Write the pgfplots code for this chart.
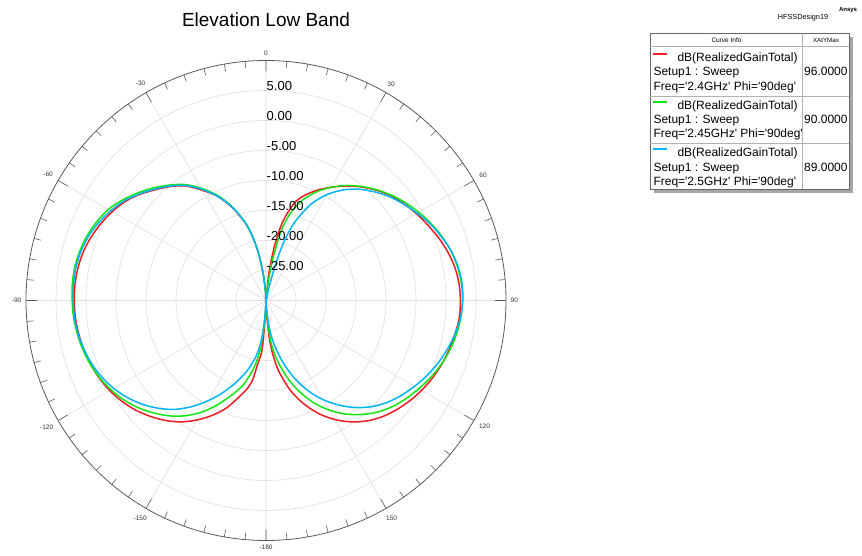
\documentclass[border=0pt]{standalone}
\usepackage{fontspec}
\setmainfont{Liberation Sans}
\newfontfamily\arial{Liberation Sans}
\usepackage{pgfplots}
\usepackage{pgfplotstable}
\usepgfplotslibrary{polar}
\pgfplotsset{compat=1.18}
\definecolor{cRed}{RGB}{237,28,36}
\definecolor{cGreen}{RGB}{20,228,20}
\definecolor{cCyan}{RGB}{0,180,245}
\definecolor{gridc}{RGB}{222,222,222}

% theta (deg, clockwise from top), gain (dB)
\pgfplotstableread{
t g
-180 -30
-177 -26.75
-175.4 -21.7
-172.3 -19.1
-170.5 -16.6
-168 -15.0
-165 -13.6
-160 -11.0
-155 -8.9
-150 -7.0
-145 -5.3
-140 -3.9
-135 -2.7
-130 -1.6
-125 -0.7
-120 0.05
-115 0.65
-110 1.1
-105 1.45
-100 1.7
-95 1.9
-90 1.95
-85 1.95
-80 1.8
-75 1.5
-70 1.0
-65 0.35
-60 -0.4
-55 -1.3
-50 -2.5
-45 -3.9
-40 -5.2
-35 -6.7
-30 -8.8
-25 -10.8
-20 -13.5
-15 -16.6
-12 -19.0
-9 -22.0
-6 -25.6
-3 -28.6
0 -30
6 -25.5
9 -20.6
12 -16.6
16 -13.2
20 -11.4
25 -9.7
30 -8.2
35 -6.7
40 -5.3
45 -4.0
50 -2.85
55 -1.9
60 -1.05
65 -0.25
70 0.6
75 1.35
80 1.95
85 2.3
90 2.4
95 2.35
100 2.0
105 1.6
110 1.15
115 0.6
120 -0.05
125 -0.8
130 -1.65
135 -2.6
140 -3.8
145 -5.3
150 -7.1
155 -9.2
160 -11.7
165 -14.6
170 -18.2
173 -21.2
175 -23.8
177 -27.5
180 -30
}\redtab

\pgfplotstableread{
t g
-180 -30
-177 -27.5
-175 -24.5
-173 -21.5
-170 -18.7
-165 -15.5
-160 -13.2
-155 -10.8
-150 -8.5
-145 -6.55
-140 -4.9
-135 -3.5
-130 -2.2
-125 -1.1
-120 -0.2
-115 0.55
-110 1.15
-105 1.6
-100 1.95
-95 2.2
-90 2.3
-85 2.4
-80 2.35
-75 2.1
-70 1.7
-65 1.1
-60 0.35
-55 -0.8
-50 -2.1
-45 -3.45
-40 -4.9
-35 -6.4
-30 -8.4
-25 -10.6
-20 -13.3
-15 -16.5
-12 -19.0
-9 -22.0
-6 -25.6
-3 -28.6
0 -30
7 -27.0
9 -23.5
11 -20.2
13 -17.3
16 -14.6
20 -12.2
25 -10.0
30 -8.2
35 -6.6
40 -5.2
45 -3.9
50 -2.7
55 -1.6
60 -0.6
65 0.35
70 1.2
75 1.9
80 2.4
85 2.7
90 2.75
95 2.6
100 2.25
105 1.75
110 1.1
115 0.3
120 -0.6
125 -1.5
130 -2.5
135 -3.7
140 -5.2
145 -6.9
150 -8.9
155 -11.2
160 -13.9
165 -16.9
170 -20.3
173 -22.8
175 -25.5
177 -28.3
180 -30
}\greentab

\pgfplotstableread{
t g
-180 -30
-177 -28.3
-175 -25.8
-173 -23.0
-170 -20.6
-165 -17.9
-160 -15.5
-155 -13.1
-150 -10.7
-145 -8.4
-140 -6.3
-135 -4.6
-130 -3.1
-125 -1.8
-120 -0.7
-115 0.2
-110 0.9
-105 1.4
-100 1.8
-95 2.05
-90 2.15
-85 2.2
-80 2.15
-75 1.9
-70 1.45
-65 0.75
-60 -0.1
-55 -1.1
-50 -2.4
-45 -3.75
-40 -5.1
-35 -6.6
-30 -8.6
-25 -10.8
-20 -13.4
-15 -16.5
-12 -19.0
-9 -22.0
-6 -25.6
-3 -28.6
0 -30
13 -27.5
15 -23.3
17 -19.8
20 -16.2
25 -12.3
30 -9.6
35 -7.5
40 -5.8
45 -4.4
50 -3.1
55 -2.0
60 -0.9
65 0.2
70 1.1
75 1.95
80 2.5
85 2.8
90 2.8
95 2.55
100 2.0
105 1.3
110 0.5
115 -0.4
120 -1.4
125 -2.45
130 -3.6
135 -5.0
140 -6.7
145 -8.7
150 -10.9
155 -13.4
160 -16.3
165 -19.5
170 -22.9
173 -25.5
176 -28.4
180 -30
}\cyantab

\begin{document}
\begin{tikzpicture}
\path[use as bounding box] (0pt,0pt) rectangle (862pt,556pt);
\begin{polaraxis}[
  at={(266pt,255.5pt)}, anchor=center,
  scale only axis, width=480pt, height=480pt,
  xmin=0, xmax=360, ymin=0, ymax=40,
  xtick={0,30,...,330},
  xticklabels={90,60,30,0,-30,-60,-90,-120,-150,-180,150,120},
  minor x tick num=5,
  ytick={5,10,...,35}, yticklabels={},
  major y tick style={draw=none},
  grid=major,
  major grid style={draw=gridc, line width=0.6pt},
  axis line style={draw=black!65, line width=0.8pt},
  y axis line style={draw=none},
  tick style={draw=black!65, line width=0.6pt},
  major tick length=-11pt, minor tick length=-7pt,
  xticklabel style={font=\fontsize{6.5}{7}\selectfont, text=black!80, inner sep=4.5pt},
]
\addplot[cRed, line width=1.5pt, no markers, smooth, tension=0.5] table[x expr=90-\thisrow{t}, y expr=\thisrow{g}+30] {\redtab};
\addplot[cGreen, line width=1.5pt, no markers, smooth, tension=0.5] table[x expr=90-\thisrow{t}, y expr=\thisrow{g}+30] {\greentab};
\addplot[cCyan, line width=1.5pt, no markers, smooth, tension=0.5] table[x expr=90-\thisrow{t}, y expr=\thisrow{g}+30] {\cyantab};
\foreach \r/\lab in {35/5.00,30/0.00,25/-5.00,20/-10.00,15/-15.00,10/-20.00,5/-25.00}{
  \edef\tmp{\noexpand\node[anchor=base west, inner sep=0pt, xshift=0.5pt, font=\noexpand\fontsize{13}{15}\noexpand\selectfont] at (axis cs:90,\r) {\lab};}
  \tmp
}
\end{polaraxis}

% title and header texts
\node[anchor=base, inner sep=0pt, font=\arial\fontsize{19}{22}\selectfont] at (266pt,529.2pt) {Elevation Low Band};
\node[anchor=base, inner sep=0pt, font=\arial\fontsize{7.3}{8}\selectfont] at (803pt,536.4pt) {HFSSDesign19};
\node[anchor=base, inner sep=0pt, font=\arial\bfseries\fontsize{6}{7}\selectfont] at (848pt,544pt) {Ansys};

% legend table
\fill[black!35] (653.5pt,363pt) rectangle (853pt,519pt);
\draw[black!60, fill=white, line width=0.8pt] (650pt,522.7pt) rectangle (849.3pt,366.7pt);
\draw[black!30, line width=0.6pt] (650pt,510pt) -- (849.3pt,510pt);
\draw[black!30, line width=0.6pt] (650pt,460pt) -- (849.3pt,460pt);
\draw[black!30, line width=0.6pt] (650pt,412.7pt) -- (849.3pt,412.7pt);
\draw[black!30, line width=0.6pt] (802.3pt,522.7pt) -- (802.3pt,366.7pt);
\node[anchor=base, inner sep=0pt, font=\arial\fontsize{6.5}{7}\selectfont] at (726.5pt,513pt) {Curve Info};
\node[anchor=base, inner sep=0pt, font=\arial\fontsize{6.2}{7}\selectfont] at (826pt,513pt) {XAtYMax};

\fill[cRed] (653.3pt,501.1pt) rectangle (666.7pt,502.9pt);
\fill[color={rgb,255:red,20;green,228;blue,20}] (653.3pt,453.4pt) rectangle (666.7pt,455.4pt);
\fill[cCyan] (653.3pt,406.1pt) rectangle (666.7pt,407.9pt);

\begin{scope}[every node/.style={anchor=base west, inner sep=0pt, font=\arial\fontsize{12}{14}\selectfont}]
\node at (677.3pt,494.4pt) {dB(RealizedGainTotal)};
\node at (653.3pt,480pt) {Setup1 : Sweep};
\node at (653.3pt,465.7pt) {Freq='2.4GHz' Phi='90deg'};
\node at (804pt,480pt) {96.0000};
\node at (677.3pt,446.7pt) {dB(RealizedGainTotal)};
\node at (653.3pt,432.3pt) {Setup1 : Sweep};
\node at (653.3pt,418pt) {Freq='2.45GHz' Phi='90deg'};
\node at (804pt,432.3pt) {90.0000};
\node at (677.3pt,399pt) {dB(RealizedGainTotal)};
\node at (653.3pt,384.8pt) {Setup1 : Sweep};
\node at (653.3pt,370.5pt) {Freq='2.5GHz' Phi='90deg'};
\node at (804pt,384.8pt) {89.0000};
\end{scope}
\end{tikzpicture}
\end{document}
